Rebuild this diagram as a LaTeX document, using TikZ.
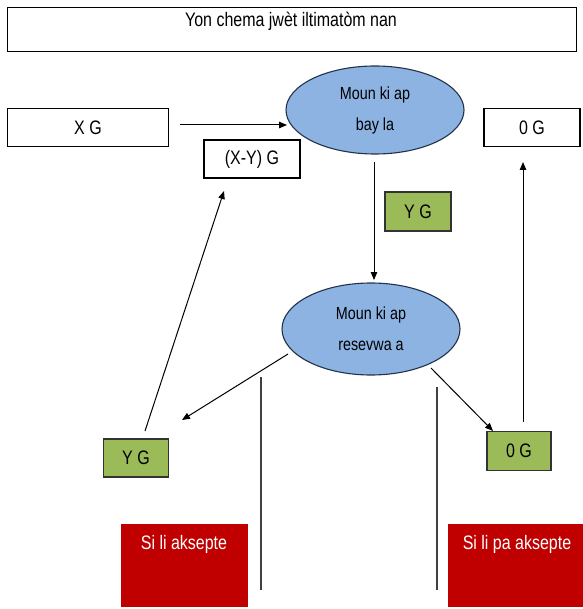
\documentclass[tikz,border=0pt]{standalone}
\usepackage{fontspec}
\setmainfont{Liberation Sans}[FakeStretch=0.82]
\usetikzlibrary{arrows.meta,shapes.geometric}
\definecolor{ellfill}{RGB}{141,179,226}
\definecolor{ellline}{RGB}{35,50,75}
\definecolor{grfill}{RGB}{155,187,89}
\definecolor{redfill}{RGB}{192,0,0}
\tikzset{
  txt/.style={font=\fontsize{19.5}{22}\selectfont},
  wbox/.style={draw=black, line width=1.1pt, fill=white, inner sep=0pt, txt},
  gbox/.style={draw=black!80, line width=1.1pt, fill=grfill, inner sep=0pt, txt},
  rbox/.style={fill=redfill, inner sep=0pt},
  ell/.style={ellipse, draw=ellline, line width=1.1pt, fill=ellfill, inner sep=0pt, align=center, font=\fontsize{17.5}{31}\selectfont},
  arr/.style={-{Triangle[length=8pt,width=6.5pt]}, line width=1pt},
  ln/.style={line width=1.1pt, draw=black!75}
}
\begin{document}
\begin{tikzpicture}[x=1pt,y=-1pt]
\useasboundingbox (0,0) rectangle (582,609);
% title
\node[wbox, minimum width=569pt, minimum height=44pt, anchor=north west] (title) at (7,7) {};
\node[txt] (titletxt) at (291,21) {Yon chema jwèt iltimatòm nan};
% left boxes
\node[wbox, minimum width=161pt, minimum height=38pt] (xg) at (88,127.5) {X G};
\node[wbox, minimum width=96pt, minimum height=38pt] (xyg) at (252,159) {(X-Y) G};
% ellipses
\node[ell, minimum width=178pt, minimum height=88pt] (giver) at (375,110) {Moun ki ap\\bay la};
\node[ell, minimum width=178pt, minimum height=92pt] (recv) at (371,329) {Moun ki ap\\resevwa a};
% right top box
\node[wbox, minimum width=96pt, minimum height=38pt] (zg) at (532,127.5) {0 G};
% green boxes
\node[gbox, minimum width=66pt, minimum height=39pt] (yg1) at (418,211.5) {Y G};
\node[gbox, minimum width=65pt, minimum height=38pt] (yg2) at (136,458) {Y G};
\node[gbox, minimum width=64pt, minimum height=39pt] (zg2) at (519,451) {0 G};
% red boxes
\node[rbox, minimum width=127pt, minimum height=83pt, anchor=north west] (acc) at (121,524) {};
\node[rbox, minimum width=135pt, minimum height=83pt, anchor=north west] (rej) at (448,524) {};
\node[text=white, txt] (acctxt) at (184,544) {Si li aksepte};
\node[text=white, txt] (rejtxt) at (517,544) {Si li pa aksepte};
% coordinates
\coordinate (a1s) at (180,125);
\coordinate (a1e) at (287,125);
\coordinate (d1s) at (374,162);
\coordinate (d1e) at (374,280);
\coordinate (ls) at (288,354);
\coordinate (le) at (182,420);
\coordinate (rs) at (431,368);
\coordinate (re) at (493,431);
\coordinate (ups) at (145,431);
\coordinate (upe) at (224,191);
\coordinate (rus) at (523,422);
\coordinate (rue) at (523,162);
\coordinate (v1s) at (261,377);
\coordinate (v1e) at (261,590);
\coordinate (v2s) at (437,387);
\coordinate (v2e) at (437,590);
% connectors
\draw[arr] (a1s) -- (a1e);
\draw[arr] (d1s) -- (d1e);
\draw[arr] (ls) -- (le);
\draw[arr] (rs) -- (re);
\draw[arr] (ups) -- (upe);
\draw[arr] (rus) -- (rue);
\draw[ln] (v1s) -- (v1e);
\draw[ln] (v2s) -- (v2e);
\end{tikzpicture}
\end{document}
